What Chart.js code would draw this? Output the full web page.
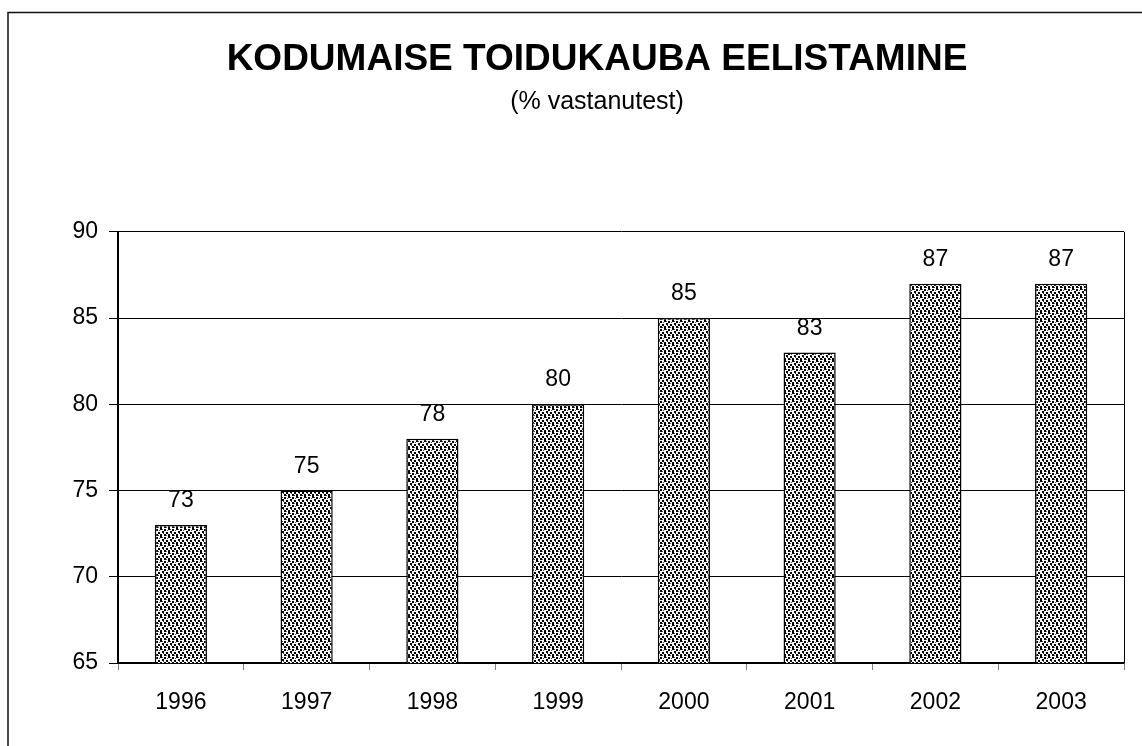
<!DOCTYPE html>
<html>
<head>
<meta charset="utf-8">
<script src="https://cdn.jsdelivr.net/npm/chart.js@4.4.1/dist/chart.umd.min.js"></script>
<style>
html,body{margin:0;padding:0;background:#fff;}
#wrap{width:1142px;height:746px;position:relative;}
</style>
</head>
<body>
<div id="wrap"><canvas id="c" width="1142" height="746"></canvas></div>
<script>
const titleText = "KODUMAISE TOIDUKAUBA EELISTAMINE";
const subtitleText = "(% vastanutest)";
const years = ["1996","1997","1998","1999","2000","2001","2002","2003"];
const shares = [73, 75, 78, 80, 85, 83, 87, 87];
const yMin = 65, yMax = 90, yStep = 5;

const FONT = "'Liberation Sans', Arial, sans-serif";

function makePattern() {
  const p = document.createElement('canvas');
  p.width = 8; p.height = 8;
  const g = p.getContext('2d');
  g.fillStyle = '#fff';
  g.fillRect(0, 0, 8, 8);
  g.fillStyle = '#000';
  [[0,0],[4,1],[2,3],[6,4],[0,6],[4,6]].forEach(([x,y]) => g.fillRect(x, y, 2, 2));
  g.fillStyle = 'rgba(0,0,0,0.7)';
  [[7,2],[3,5],[6,7],[2,1]].forEach(([x,y]) => g.fillRect(x, y, 1, 1));
  return g.createPattern(p, 'repeat');
}

const framePlugin = {
  id: 'frame',
  afterDraw(chart) {
    const ctx = chart.ctx;
    const a = chart.chartArea;
    ctx.save();
    ctx.strokeStyle = '#000';
    ctx.lineWidth = 1;
    ctx.beginPath();
    ctx.moveTo(Math.round(a.right) + 0.5, a.top);
    ctx.lineTo(Math.round(a.right) + 0.5, a.bottom);
    ctx.stroke();
    ctx.lineWidth = 1.5;
    ctx.strokeStyle = '#111';
    ctx.beginPath();
    ctx.moveTo(8, 746);
    ctx.lineTo(8, 12.5);
    ctx.lineTo(1142, 12.5);
    ctx.stroke();
    const meta = chart.getDatasetMeta(0);
    ctx.fillStyle = '#000';
    ctx.font = '23px ' + FONT;
    ctx.textAlign = 'center';
    ctx.textBaseline = 'alphabetic';
    meta.data.forEach((bar, i) => {
      ctx.fillText(String(chart.data.datasets[0].data[i]), bar.x, bar.y - 18);
    });
    ctx.restore();
  }
};

new Chart(document.getElementById('c'), {
  type: 'bar',
  data: {
    labels: years,
    datasets: [{
      data: shares,
      backgroundColor: makePattern(),
      borderColor: '#000',
      borderWidth: 1.5,
      borderSkipped: false,
      categoryPercentage: 1,
      barPercentage: 0.415
    }]
  },
  options: {
    responsive: false,
    animation: false,
    devicePixelRatio: 1,
    layout: { padding: { left: 70, right: 18, top: 0, bottom: 0 } },
    plugins: {
      legend: { display: false },
      tooltip: { enabled: false },
      title: {
        display: true,
        text: titleText,
        color: '#000',
        font: { family: FONT, size: 37, weight: 'bold', lineHeight: 1.2 },
        padding: { top: 38, bottom: 0 }
      },
      subtitle: {
        display: true,
        text: subtitleText,
        color: '#000',
        font: { family: FONT, size: 25, lineHeight: 1.2 },
        padding: { top: 5, bottom: 114.5 }
      }
    },
    scales: {
      x: {
        offset: true,
        grid: {
          offset: true,
          drawOnChartArea: false,
          drawTicks: true,
          tickLength: 7,
          color: '#808080',
          lineWidth: 1
        },
        border: { display: true, color: '#000', width: 1.5 },
        ticks: {
          color: '#000',
          font: { family: FONT, size: 23 },
          padding: 19,
          maxRotation: 0
        },
        afterFit(axis) { axis.height = 83; }
      },
      y: {
        min: yMin,
        max: yMax,
        ticks: {
          stepSize: yStep,
          color: '#000',
          font: { family: FONT, size: 23 },
          padding: 11
        },
        grid: {
          color: '#000',
          lineWidth: 1,
          drawTicks: true,
          tickLength: 9
        },
        border: { display: true, color: '#000', width: 2 },
        afterFit(axis) { axis.width = 48; }
      }
    }
  },
  plugins: [framePlugin]
});
</script>
</body>
</html>
